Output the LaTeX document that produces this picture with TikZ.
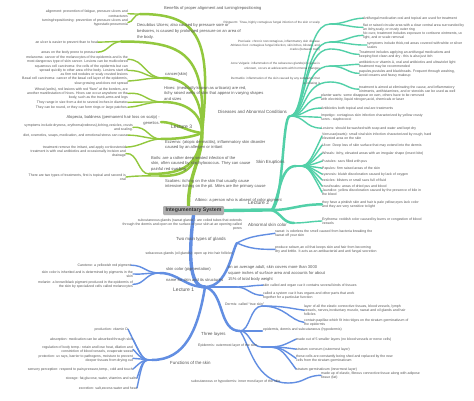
\documentclass[tikz,border=0pt]{standalone}
\usepackage{fontspec}
\setmainfont{Liberation Sans}
\usetikzlibrary{backgrounds}
\definecolor{grn}{RGB}{146,200,62}
\definecolor{tea}{RGB}{82,208,168}
\definecolor{blu}{RGB}{98,142,226}
\definecolor{tx}{RGB}{85,85,85}
\definecolor{boxg}{RGB}{175,175,175}
\tikzset{
 SL/.style={font=\fontsize{5}{6}\selectfont, text=tx, inner sep=0pt},
 S1/.style={font=\fontsize{4.4}{5.2}\selectfont, text=tx, inner sep=0pt},
 S2/.style={font=\fontsize{4.1}{5.7}\selectfont, text=tx, inner sep=0pt},
 S3/.style={font=\fontsize{3.5}{4.4}\selectfont, text=tx, inner sep=0pt},
 S3t/.style={font=\fontsize{3.05}{4.1}\selectfont, text=tx, inner sep=0pt},
 atl/.style={anchor=north west, align=left},
 atr/.style={anchor=north east, align=right},
 rootbox/.style={fill=boxg, rounded corners=1.2pt, minimum width=61pt, minimum height=9pt, inner sep=0pt, font=\fontsize{5.2}{6}\selectfont\bfseries, text=black!80},
 gA/.style={draw=grn, line width=3.4pt, line cap=round},
 gB/.style={draw=grn, line width=2.5pt, line cap=round},
 gC/.style={draw=grn, line width=1.4pt, line cap=round},
 tA/.style={draw=tea, line width=3.4pt, line cap=round},
 tB/.style={draw=tea, line width=2.5pt, line cap=round},
 tC/.style={draw=tea, line width=1.4pt, line cap=round},
 bA/.style={draw=blu, line width=3.4pt, line cap=round},
 bB/.style={draw=blu, line width=2.5pt, line cap=round},
 bC/.style={draw=blu, line width=1.4pt, line cap=round},
}
\begin{document}
\begin{tikzpicture}[x=1pt,y=-1pt]
\useasboundingbox (0,0) rectangle (474,401);
\begin{scope}[on background layer]
\fill[white] (0,0) rectangle (474,401);
\end{scope}

\node[rootbox] (root) at (193.5,210.5) {Integumentary System};

% ---------------- hubs ----------------
\coordinate (h3) at (202,133);
\coordinate (h2) at (272,210);
\coordinate (h1) at (205,287);

% ---------------- GREEN (Lecture 3) ----------------
\node[S2,atl] (benef) at (164,6.3) {Benefits of proper alignment and turning/repositioning};
\node[S3,atr] (al1) at (128,10) {alignment: prevention of fatigue, pressure ulcers and\\contractures};
\node[S3,atr] (al2) at (128,18.5) {turning/repositioning: prevention of pressure ulcers and\\hypostatic pneumonia};
\node[S2,atl] (decub) at (137,23.8) {Decubitus Ulcers; also caused by pressure sore or\\bedsores, is caused by prolonged pressure on an area of\\the body.};
\node[S3,atr] (ulc1) at (98,40.3) {an ulcer is easier to prevent than to heal};
\node[S3,atr] (ulc2) at (98,50.3) {areas on the body prone to pressure};
\node[S2,atl] (canc) at (165,72) {cancer(skin)};
\node[S3,atr] (mel) at (128,55.3) {melanoma: cancer of the melanocytes of the epidermis and is the\\most dangerous type of skin cancer. Lesions can be multicolored};
\node[S3,atr] (squ) at (128,64.3) {squamous cell carcinoma: the cells of the epidermis but can\\spread quickly to other area of the body. Lesions start off\\as firm red nodules or scaly crusted lesions};
\node[S3,atr] (bas) at (128,77) {Basal cell carcinoma: cancer of the basal cell layer of the epidermis,\\slow growing and does not spread};
\node[S2,atl] (hives) at (164,86) {Hives: (medically known as urticaria) are red,\\itchy raised welts of skin that appear in varying shapes\\and sizes};
\node[S3,atr] (wheal) at (128,87.3) {Wheal (welts), red lesions with red ``flare'' at the borders, are\\another manifestation of hives. Hives can occur anywhere on the\\body, such as the trunk,arms and legs};
\node[S3,atr] (range) at (128,100.5) {They range in size from a dot to several inches in diameter};
\node[S3,atr] (round) at (128,105.3) {They can be round, or they can form rings or large patches.};
\node[S2,atr] (alop) at (160,115.5) {Alopecia, baldness (permanent hair loss on scalp) -\\genetics.};
\node[SL,atl] (lec3) at (171,124.8) {Lecture 3};
\node[S3,atr] (eczA) at (133,123.3) {symptoms include dryness, erythema(redness),itching,vesicles, crusts\\and scaling.};
\node[S3,atr] (eczB) at (128,133.3) {diet, cosmetics, soaps, medication, and emotional stress can cause};
\node[S2,atl] (ecz) at (165,140) {Eczema: (atopic dermatitis), inflammatory skin disorder\\caused by an allergen or irritant};
\node[S3,atr] (eczC) at (126,145.3) {treatment remove the irritant, and apply corticosteroid};
\node[S3,atr] (boilA) at (126,149.6) {treatment is with oral antibiotics and occasionally incision and\\drainage};
\node[S2,atl] (boil) at (151,156) {Boils: are a rather deep seated infection of the\\skin, often caused by staphylococcus. They can cause\\painful red swelling};
\node[S3,atr] (scabA) at (126,173.3) {There are two types of treatments, first is topical and second is\\oral};
\node[S2,atl] (scab) at (165,179) {Scabies: itching on the skin that usually cause\\intensive itching on the pit. Mites are the primary cause};
\node[S2,atl] (albino) at (195,198.3) {Albino: a person who is absent of color pigment};

\coordinate (pB) at (140,14);
\coordinate (pDc) at (121,41.5);
\coordinate (pCa) at (163,78);
\coordinate (pHv) at (163,102);
\coordinate (pAl) at (161,122);
\coordinate (pEz) at (161,139);
\coordinate (pBo) at (149,174);
\coordinate (pSc) at (160,176);

% ---------------- TEAL (Lecture 2) ----------------
\node[SL,atl] (lec2) at (248,201.3) {Lecture 2};
\node[S1,atl] (dis) at (218,110.6) {Diseases and Abnormal Conditions};
\node[S3t,atr] (ring) at (320,21.2) {Ringworm: Tinea, highly contagious fungal infection of the skin or scalp};
\node[S3,atl] (ringA) at (363,16.3) {Antifungal medication oral and topical are used for treatment};
\node[S3,atl] (ringB) at (363,23.3) {flat or raised circular area with a clear central area surrounded by\\an itchy,scaly, or crusty outer ring};
\node[S3t,atr] (psor) at (320,40.5) {Psoriasis: chronic noncontagious, inflammatory skin disease};
\node[S3t,atr] (ath) at (320,44) {Athletes foot: contagious fungal infection, skin itches, blisters, and\\cracks (between toes)};
\node[S3,atl] (psorA) at (363,31.3) {No cure, treatment includes exposure to cortisone ointments, uv\\light, and or scale removal};
\node[S3,atl] (psorB) at (367,41.3) {symptoms include thick,red areas covered with white or silver\\scales};
\node[S3,atl] (athA) at (359,50.3) {Treatment includes applying an antifungal medications and\\keeping foot clean and dry - this is also just itch};
\node[S3t,atr] (acne) at (320,62.5) {Acne Vulgaris: inflammation of the sebaceous glands(oil) cause is\\unknown, occurs at adolescents with hormonal changes};
\node[S3,atl] (acneA) at (359,60.3) {antibiotics or vitamin A, oral and antibiotics and ultraviolet light\\treatment may be recommended};
\node[S3,atl] (acneB) at (359,69.3) {papules,pustules and blackheads. Frequent through washing,\\avoid creams and heavy makeup};
\node[S3t,atr] (derm) at (320,77.5) {Dermatitis: inflammation of the skin caused by any substance that\\is irritating it};
\node[S3,atl] (dermA) at (359,85.3) {treatment is aimed at eliminating the cause, and inflammatory\\ointments, antihistamines, and or steroids can be used as well};
\node[S3,atl] (warts) at (321,93.3) {planter warts: some disappear on own, others have to be removed\\with electricity, liquid nitrogen,acid, chemicals or laser};
\node[S3,atl] (antib) at (321,106.3) {Antibiotics both topical and oral are treatments};
\node[S3,atl] (imp) at (321,113.3) {Impetigo: contagious skin infection characterized by yellow crusty\\sores - staphococci};
\node[S3,atl] (les) at (321,126.3) {Lesions: should be washed with soap and water and kept dry};
\node[S3,atl] (verr) at (322,132.3) {Verrucae(warts): small viral skin infection characterized by rough, hard\\elevated area on the skin};
\node[S3,atl] (ulcer) at (322,143.3) {Ulcer: Deep loss of skin surface that may extend into the dermis};
\node[S3,atl] (mac) at (322,151.3) {Wheals: itchy, elevated areas with an irregular shape (insect bite)};
\node[S3,atl] (pust) at (322,159.3) {Pustules: sacs filled with pus};
\node[S3,atl] (pap) at (322,166.3) {Papules: firm raised areas of the skin};
\node[S3,atl] (cyan) at (322,172.3) {cyanosis: bluish discoloration caused by lack of oxygen};
\node[S3,atl] (ves) at (322,178.3) {vesicles: blisters or small sacs full of fluid};
\node[S3,atl] (crust) at (322,184.3) {crust/scabs: areas of dried pus and blood};
\node[S3,atl] (jaun) at (322,188.5) {Jaundice: yellow discoloration caused by the presence of bile in\\the blood};
\node[S1,atl] (skinE) at (256,160.6) {Skin Eruptions};
\node[S3,atl] (pink) at (322,200.3) {they have a pinkish skin and hair is pale yellow,eyes lack color\\and they are very sensitive to light};
\node[S3,atl] (eryth) at (322,217.3) {Erythema: reddish color caused by burns or congestion of blood\\vessels};
\node[S1,atl] (abn) at (248,223.6) {Abnormal skin color};

\coordinate (pDis) at (290,116);
\coordinate (pRg) at (330,24);
\coordinate (pPs) at (330,42);
\coordinate (pAt) at (330,49);
\coordinate (pAc) at (330,66);
\coordinate (pDe) at (330,82);
\coordinate (pSk) at (296,166);
\coordinate (pAb) at (294,223);

% ---------------- BLUE (Lecture 1) ----------------
\node[S3,atr] (sweatg) at (242,218.3) {subcutaneous glands (sweat glands): are coiled tubes that extends\\through the dermis and open on the surface of your skin at an opening called\\pores};
\node[S3,atl] (sweatA) at (275,229.3) {sweat: is odorless the smell caused from bacteria breaking the\\sweat off your skin};
\node[S1,atl] (glands) at (176,237.6) {Two main types of glands};
\node[S3,atr] (seb) at (233,251.3) {sebaceous glands (oil glands): open up into hair follicles};
\node[S3,atl] (sebA) at (275,245.3) {produce sebum,an oil that keeps skin and hair from becoming\\dry and brittle. It acts as an antibacterial and anti fungal secretion};
\node[S3,atr] (carot) at (131,263.3) {Carotene: a yellowish red pigment};
\node[S3,atr] (skcolA) at (133,270.3) {skin color is inherited and is determined by pigments in the\\skin};
\node[S3,atr] (melan) at (133,280.3) {melanin: a brown/black pigment produced in the epidermis of\\the skin by specialized cells called melanocytes};
\node[S2,atl] (skcol) at (166,267.5) {skin color (pigmentation)};
\node[S2,atl] (name) at (166,278.5) {name for skin and its structures};
\node[S2,atl] (avg) at (228,265.5) {on an average adult, skin covers more than 3000\\square inches of surface area and accounts for about\\15\% of total body weight};
\node[SL,atl] (lec1) at (173,288.3) {Lecture 1};
\node[S3,atl] (organ) at (263,283.3) {skin called and organ cuz it contains several kinds of tissues};
\node[S3,atl] (system) at (263,291.3) {called a system cuz it has organs and other parts that work\\together for a particular function};
\node[S3,atl] (dermis) at (225,302.3) {Dermis: called ``true skin''};
\node[S3,atl] (dermL) at (304,304.3) {layer of all the elastic connective tissues, blood vessels, lymph\\vessels, nerves,involuntary muscle, sweat and oil glands and hair\\follicles};
\node[S3,atl] (dermP) at (304,318.3) {contain papillae which fit into ridges on the stratum germinativum of\\the epidermis};
\node[S3,atl] (three) at (263,327.3) {epidermis, dermis and subcutaneous (hypodermis)};
\node[S1,atl] (threeL) at (201,332.6) {Three layers};
\node[S3,atl] (epi5) at (296,337.3) {made out of 5 smaller layers (no blood vessels or nerve cells)};
\node[S3,atl] (epiD) at (198,343.3) {Epidermis: outermost layer of the skin};
\node[S3,atl] (corn) at (296,347.3) {stratum corneum (outermost layer)};
\node[S3,atl] (shed) at (296,354.3) {these cells are constantly being shed and replaced by the new\\cells from the stratum germinativum};
\node[S3,atl] (germ) at (296,367.3) {stratum germinativum (innermost layer)};
\node[S3,atl] (subA) at (321,371.3) {made up of elastic, fibrous connective tissue along with adipose\\tissue (fat)};
\node[S3,atl] (subD) at (191,379.3) {subcutaneous or hypodermis: inner most layer of the skin};
\node[S1,atl] (func) at (170,361.6) {Functions of the skin};
\node[S3,atr] (prod) at (128,327.3) {production: vitamin D};
\node[S3,atr] (absorp) at (133,337.3) {absorption: medication can be absorbed through skin};
\node[S3,atr] (regul) at (133,345.3) {regulation of body temp.: retain and lose heat, dilation and\\constriction of blood vessels, evaporate sweat};
\node[S3,atr] (protect) at (133,354.3) {protection: uv rays, barrier to pathogens, moisture to prevent\\deeper tissues from drying out};
\node[S3,atr] (sens) at (133,367.3) {sensory perception: respond to pain,pressure,temp., cold and touch};
\node[S3,atr] (stor) at (137,376.3) {storage: fat,glucose, water, vitamins and salts};
\node[S3,atr] (excr) at (137,386.3) {excretion: salt,excess water and heat};

\coordinate (pGl) at (237,243);
\coordinate (pSc2) at (160,273);
\coordinate (pNm) at (236,287);
\coordinate (pFn) at (152,360);
\coordinate (pTh) at (240,331);
\coordinate (pThE) at (262,331);
\coordinate (pDm) at (262,306);
\coordinate (pEp) at (262,347);
\coordinate (pSu) at (288,383);

\begin{scope}[on background layer]
% green
\draw[gA] ([xshift=-5pt]root.north) .. controls (188,175) and (202,160) .. (h3);
\draw[gB] (h3) .. controls (212,40) and (200,14) .. (pB);
\draw[gC] (pB) .. controls (136,14) and (133,14) .. (al1.east);
\draw[gC] (pB) .. controls (134,14) and (133,22.5) .. (al2.east);
\draw[gB] (h3) .. controls (206,55) and (185,41.5) .. (pDc);
\draw[gC] (pDc) .. controls (112,41.5) and (108,42) .. (ulc1.east);
\draw[gC] (pDc) .. controls (110,42) and (108,52) .. (ulc2.east);
\draw[gB] (h3) .. controls (203,100) and (190,78) .. (pCa);
\draw[gC] (pCa) .. controls (145,78) and (145,59.5) .. (mel.east);
\draw[gC] (pCa) .. controls (145,78) and (145,70) .. (squ.east);
\draw[gC] (pCa) .. controls (145,78) and (145,80) .. (bas.east);
\draw[gB] (h3) .. controls (202,115) and (188,102) .. (pHv);
\draw[gC] (pHv) .. controls (145,102) and (145,91.5) .. (wheal.east);
\draw[gC] (pHv) .. controls (145,102) and (140,102) .. (range.east);
\draw[gC] (pHv) .. controls (145,102) and (140,107) .. (round.east);
\draw[gB] (h3) .. controls (185,131) and (175,122) .. (pAl);
\draw[gB] (h3) .. controls (190,138) and (175,139) .. (pEz);
\draw[gC] (pEz) .. controls (148,139) and (148,126) .. (eczA.east);
\draw[gC] (pEz) .. controls (148,139) and (140,135) .. (eczB.east);
\draw[gC] (pEz) .. controls (148,139) and (140,147) .. (eczC.east);
\draw[gB] (h3) .. controls (198,165) and (185,174) .. (pBo);
\draw[gC] (pBo) .. controls (138,174) and (138,152) .. (boilA.east);
\draw[gB] (h3) .. controls (197,170) and (185,176) .. (pSc);
\draw[gC] (pSc) .. controls (145,176) and (140,175.5) .. (scabA.east);
% teal
\draw[tA] (root.east) .. controls (240,210.5) and (255,210) .. (h2);
\draw[tB] (h2) .. controls (284,200) and (282,116) .. (pDis);
\draw[tC] (pDis) .. controls (306,116) and (303,24) .. (pRg);
\draw[tC] (pRg) .. controls (345,24) and (350,18.5) .. (ringA.west);
\draw[tC] (pRg) .. controls (345,24) and (350,27.5) .. (ringB.west);
\draw[tC] (pDis) .. controls (306,116) and (303,42) .. (pPs);
\draw[tC] (pPs) .. controls (345,42) and (350,35.5) .. (psorA.west);
\draw[tC] (pPs) .. controls (345,42) and (352,45.5) .. (psorB.west);
\draw[tC] (pDis) .. controls (306,116) and (303,49) .. (pAt);
\draw[tC] (pAt) .. controls (345,49) and (348,54.5) .. (athA.west);
\draw[tC] (pDis) .. controls (306,116) and (303,66) .. (pAc);
\draw[tC] (pAc) .. controls (345,66) and (348,64.5) .. (acneA.west);
\draw[tC] (pAc) .. controls (345,66) and (348,73.5) .. (acneB.west);
\draw[tC] (pDis) .. controls (306,116) and (303,82) .. (pDe);
\draw[tC] (pDe) .. controls (345,82) and (348,89.5) .. (dermA.west);
\draw[tC] (pDis) .. controls (305,116) and (305,97.5) .. (warts.west);
\draw[tC] (pDis) .. controls (305,116) and (305,108) .. (antib.west);
\draw[tC] (pDis) .. controls (305,116) and (305,117.5) .. (imp.west);
\draw[tC] (pDis) .. controls (305,116) and (305,128) .. (les.west);
\draw[tB] (h2) .. controls (280,195) and (280,166) .. (pSk);
\foreach \n in {verr,ulcer,mac,pust,pap,cyan,ves,crust,jaun}
  \draw[tC] (pSk) .. controls (308,166) and (308,166) .. (\n.west);
\draw[tB] (h2) .. controls (292,210) and (298,204.5) .. (pink.west);
\draw[tB] (h2) .. controls (282,214) and (283,223) .. (pAb);
\draw[tC] (pAb) .. controls (305,223) and (310,221.5) .. (eryth.west);
% blue
\draw[bA] (root.south) .. controls (189,250) and (188,287) .. (h1);
\draw[bB] (h1) .. controls (228,287) and (232,250) .. (pGl);
\draw[bC] (pGl) .. controls (250,236) and (260,235.5) .. (sweatA.west);
\draw[bC] (pGl) .. controls (250,249) and (260,249.5) .. (sebA.west);
\draw[bB] (h1) .. controls (185,287) and (178,273) .. (pSc2);
\draw[bC] (pSc2) .. controls (145,273) and (145,265.5) .. (carot.east);
\draw[bC] (pSc2) .. controls (145,273) and (145,274.5) .. (skcolA.east);
\draw[bC] (pSc2) .. controls (145,273) and (145,284.5) .. (melan.east);
\draw[bB] (h1) -- (pNm);
\draw[bC] (pNm) .. controls (248,287) and (250,285.5) .. (organ.west);
\draw[bC] (pNm) .. controls (248,287) and (250,295.5) .. (system.west);
\draw[bB] (h1) .. controls (198,330) and (185,360) .. (pFn);
\foreach \n in {prod,absorp,regul,protect,sens,stor,excr}
  \draw[bC] (pFn) .. controls (143,360) and (143,360) .. (\n.east);
\draw[bB] (h1) .. controls (225,292) and (218,331) .. (pTh);
\draw[bB] (pTh) -- (pThE);
\draw[bC] (pTh) .. controls (250,331) and (250,306) .. (pDm);
\draw[bC] (pDm) .. controls (285,306) and (290,308.5) .. (dermL.west);
\draw[bC] (pDm) .. controls (285,306) and (290,320.5) .. (dermP.west);
\draw[bC] (pTh) .. controls (250,331) and (250,347) .. (pEp);
\foreach \n in {epi5,corn,shed,germ}
  \draw[bC] (pEp) .. controls (280,347) and (280,347) .. (\n.west);
\draw[bC] (pTh) .. controls (250,345) and (255,383) .. (pSu);
\draw[bC] (pSu) .. controls (305,383) and (305,375.5) .. (subA.west);
\end{scope}
\end{tikzpicture}
\end{document}
